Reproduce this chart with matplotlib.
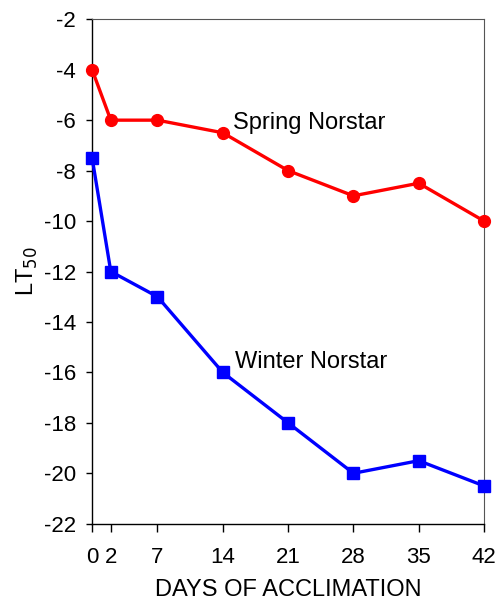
import matplotlib.pyplot as plt

plt.rcParams['font.family'] = ['Liberation Sans', 'DejaVu Sans']
plt.rcParams['axes.unicode_minus'] = False

# days of acclimation
days = [0, 2, 7, 14, 21, 28, 35, 42]
x_ticks = [0, 2, 7, 14, 21, 28, 35, 42]

# LT50 values
spring = [-4, -6, -6, -6.5, -8, -9, -8.5, -10]
winter = [-7.5, -12, -13, -16, -18, -20, -19.5, -20.5]

fig = plt.figure(figsize=(4.98, 6.02), dpi=100)
ax = fig.add_axes([0.185, 0.130, 0.787, 0.838])

ax.plot(days, spring, color='#ff0000', lw=2.4, marker='o', ms=8.5, clip_on=False, zorder=3)
ax.plot(days, winter, color='#0000ff', lw=2.4, marker='s', ms=9, clip_on=False, zorder=3)

ax.text(15.1, -6.1, 'Spring Norstar', fontsize=17, va='center', ha='left')
ax.text(15.3, -15.6, 'Winter Norstar', fontsize=17, va='center', ha='left')

ax.set_xlim(0, 42)
ax.set_ylim(-22, -2)
ax.set_xticks(x_ticks)
ax.set_yticks(range(-22, -1, 2))
ax.tick_params(direction='out', labelsize=16, length=5, width=1, color='black')
ax.tick_params(axis='x', length=6, pad=11)
ax.tick_params(axis='y', length=4.5, pad=7)

for side in ['top', 'right']:
    ax.spines[side].set_color('#555555')
    ax.spines[side].set_linewidth(0.8)
for side in ['left', 'bottom']:
    ax.spines[side].set_color('black')
    ax.spines[side].set_linewidth(1)

ax.set_xlabel('DAYS OF ACCLIMATION', fontsize=17, labelpad=8)
ax.set_ylabel('LT$_{50}$', fontsize=17, labelpad=3)

fig.savefig('out.png', dpi=100)
